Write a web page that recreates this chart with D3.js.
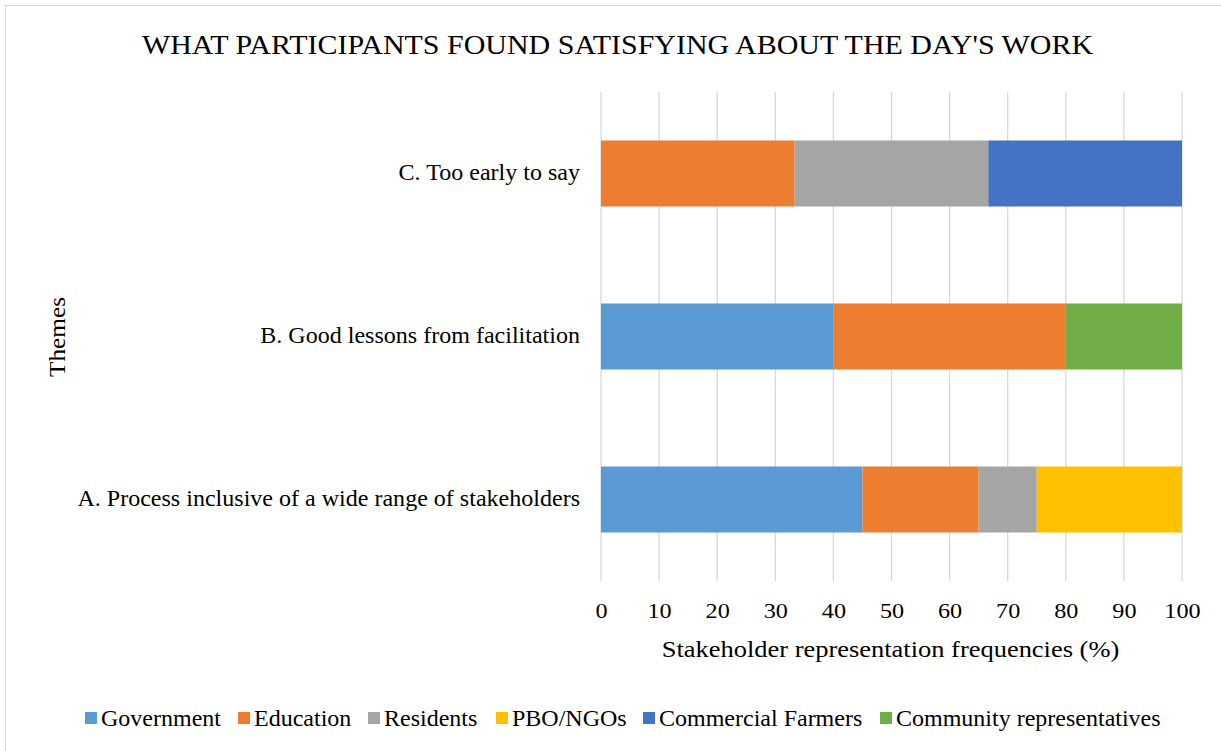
<!DOCTYPE html>
<html>
<head>
<meta charset="utf-8">
<script src="https://cdn.jsdelivr.net/npm/d3@7"></script>
<style>
  html, body { margin: 0; padding: 0; background: #fff; }
  svg text { font-family: 'Liberation Serif', 'Times New Roman', Tinos, 'DejaVu Serif', serif; }
</style>
</head>
<body>
<svg id="chart" width="1221" height="751"></svg>
<script>
const categories = [
  "A. Process inclusive of a wide range of stakeholders",
  "B. Good lessons from facilitation",
  "C. Too early to say"
];
const seriesNames = ["Government", "Education", "Residents", "PBO/NGOs", "Commercial Farmers", "Community representatives"];
const seriesColors = ["#5B9BD5", "#ED7D31", "#A5A5A5", "#FFC000", "#4472C4", "#70AD47"];
// values per series, in order of categories (A, B, C)
const government = [45, 40, 0];
const education = [20, 40, 33.33];
const residents = [10, 0, 33.33];
const pboNgos = [25, 0, 0];
const commercialFarmers = [0, 0, 33.34];
const communityReps = [0, 20, 0];
const xTicks = [0, 10, 20, 30, 40, 50, 60, 70, 80, 90, 100];

const seriesValues = [government, education, residents, pboNgos, commercialFarmers, communityReps];
const table = categories.map((c, i) => {
  const row = { category: c };
  seriesNames.forEach((s, j) => row[s] = seriesValues[j][i]);
  return row;
});

const FONT = "'Liberation Serif', 'Times New Roman', Tinos, 'DejaVu Serif', serif";
const svg = d3.select("#chart");
const W = 1221, H = 751;
const plot = { left: 601, right: 1182, top: 92, bottom: 581 };

// horizontally stretch text to mimic the reference rendering
function stretch(sel, k) {
  sel.each(function () {
    const len = this.getComputedTextLength();
    d3.select(this).attr("textLength", len * k).attr("lengthAdjust", "spacingAndGlyphs");
  });
}

// outer border
svg.append("rect").attr("x", 5.5).attr("y", 5.5).attr("width", W + 10).attr("height", H + 10)
  .attr("fill", "#fff").attr("stroke", "#d9d9d9").attr("stroke-width", 1);

const x = d3.scaleLinear().domain([0, 100]).range([plot.left, plot.right]);
const y = d3.scaleBand().domain(categories.slice().reverse()).range([plot.top, plot.bottom]).paddingInner(0.595).paddingOuter(0.2975);

// gridlines
svg.append("g").selectAll("line").data(xTicks).join("line")
  .attr("x1", d => x(d)).attr("x2", d => x(d))
  .attr("y1", plot.top).attr("y2", plot.bottom)
  .attr("stroke", "#d9d9d9").attr("stroke-width", 1.3);

// stacked bars
const stack = d3.stack().keys(seriesNames);
const stacked = stack(table);
svg.append("g").selectAll("g").data(stacked).join("g")
  .attr("fill", (d, i) => seriesColors[i])
  .selectAll("rect").data(d => d.filter(p => p[1] - p[0] > 0)).join("rect")
  .attr("x", d => x(d[0]))
  .attr("width", d => x(d[1]) - x(d[0]))
  .attr("y", d => y(d.data.category))
  .attr("height", y.bandwidth());

// x axis tick labels
const xAxis = d3.axisBottom(x).tickValues(xTicks).tickSize(0).tickPadding(0);
const gx = svg.append("g").attr("transform", `translate(0, ${plot.bottom + 37})`).call(xAxis);
gx.attr("font-family", FONT);
gx.select(".domain").remove();
gx.selectAll("text").attr("font-size", 22).attr("fill", "#000").attr("dy", null).attr("y", 0)
  .attr("font-family", FONT);
stretch(gx.selectAll("text"), 1.1);

// y axis labels
const yAxis = d3.axisLeft(y).tickSize(0).tickPadding(0);
const gy = svg.append("g").attr("transform", `translate(${plot.left - 21}, 0)`).call(yAxis);
gy.attr("font-family", FONT);
gy.select(".domain").remove();
gy.selectAll("text").attr("font-size", 23).attr("fill", "#000").attr("dy", "0.3em")
  .attr("font-family", FONT);
stretch(gy.selectAll("text"), 1.045);

// title
const title = svg.append("text").attr("x", 617.5).attr("y", 54).attr("text-anchor", "middle")
  .attr("font-family", FONT)
  .attr("font-size", 28).attr("fill", "#000")
  .text("WHAT PARTICIPANTS FOUND SATISFYING ABOUT THE DAY'S WORK");
stretch(title, 1.07);

// axis titles
const xTitle = svg.append("text").attr("x", 890.5).attr("y", 657).attr("text-anchor", "middle")
  .attr("font-family", FONT)
  .attr("font-size", 23).attr("fill", "#000")
  .text("Stakeholder representation frequencies (%)");
stretch(xTitle, 1.15);
const yTitle = svg.append("text").attr("transform", "translate(65, 337) rotate(-90)").attr("text-anchor", "middle")
  .attr("font-family", FONT)
  .attr("font-size", 23).attr("fill", "#000").text("Themes");
stretch(yTitle, 1.1);

// legend
const legendX = [85, 238, 368, 496, 643, 880];
const lg = svg.append("g").selectAll("g").data(seriesNames).join("g")
  .attr("transform", (d, i) => `translate(${legendX[i]}, 718)`);
lg.append("rect").attr("x", 0).attr("y", -6).attr("width", 12).attr("height", 12)
  .attr("fill", (d, i) => seriesColors[i]);
lg.append("text").attr("x", 16).attr("y", 8).attr("font-size", 24).attr("fill", "#000")
  .attr("font-family", FONT).text(d => d);
</script>
</body>
</html>
